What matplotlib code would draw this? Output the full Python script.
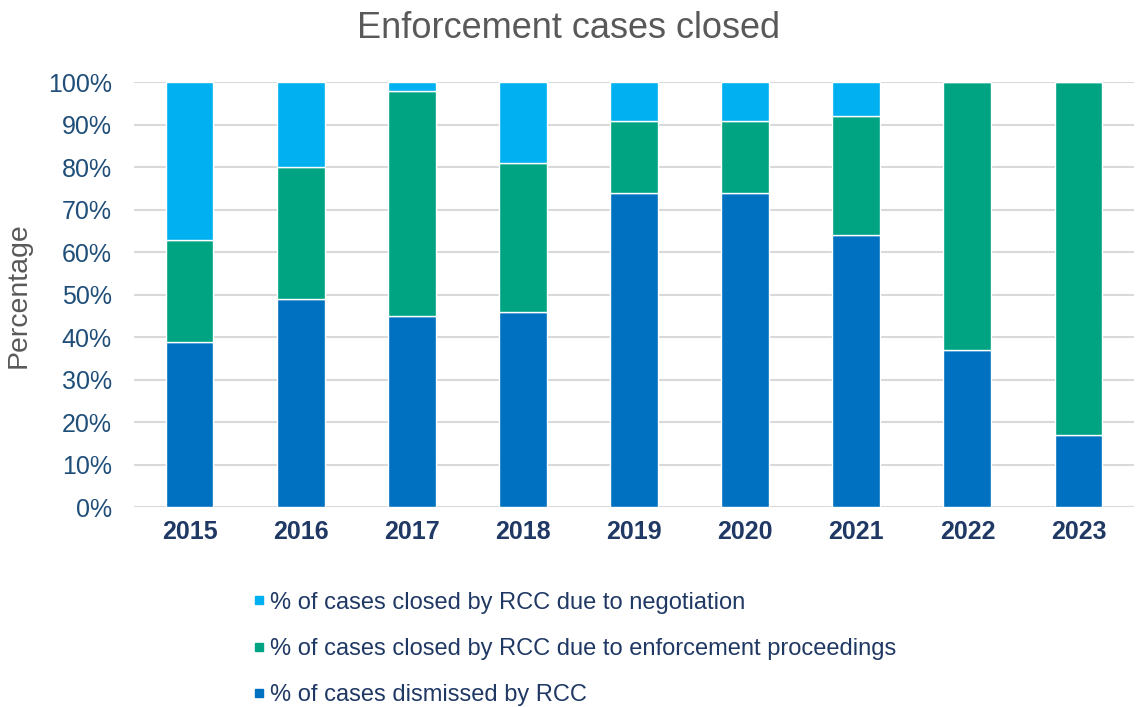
import matplotlib
matplotlib.use("Agg")
import matplotlib.pyplot as plt
from matplotlib.lines import Line2D
import numpy as np

plt.rcParams['font.family'] = ['Liberation Sans', 'DejaVu Sans']

years = ['2015', '2016', '2017', '2018', '2019', '2020', '2021', '2022', '2023']
dismissed = [39, 49, 45, 46, 74, 74, 64, 37, 17]
enforcement = [24, 31, 53, 35, 17, 17, 28, 63, 83]
negotiation = [37, 20, 2, 19, 9, 9, 8, 0, 0]

series_labels = [
    '% of cases closed by RCC due to negotiation',
    '% of cases closed by RCC due to enforcement proceedings',
    '% of cases dismissed by RCC',
]
c_neg = '#00B0F0'
c_enf = '#00A482'
c_dis = '#0070C0'
tick_col = '#1F4E79'
grey = '#595959'

fig = plt.figure(figsize=(11.37, 7.07), dpi=100)
ax = fig.add_axes([0.1179, 0.2825, 0.8795, 0.601])

x = np.arange(len(years))
w = 0.43
dis = np.array(dismissed)
enf = np.array(enforcement)
neg = np.array(negotiation)

ax.bar(x, dis, w, color=c_dis, edgecolor='white', linewidth=1, zorder=3)
ax.bar(x, enf, w, bottom=dis, color=c_enf, edgecolor='white', linewidth=1, zorder=3)
ax.bar(x, neg, w, bottom=dis + enf, color=c_neg, edgecolor='white', linewidth=1, zorder=3)

ax.set_xlim(-0.5, len(years) - 0.5)
ax.set_ylim(0, 100)
ax.set_yticks(np.arange(0, 101, 10))
ax.set_yticklabels([f'{v}%' for v in range(0, 101, 10)], fontsize=18, color=tick_col)
ax.set_xticks(x)
ax.set_xticklabels(years, fontsize=18, fontweight='bold', color='#1F3864')
ax.tick_params(axis='both', length=0)
ax.tick_params(axis='y', pad=16)
ax.tick_params(axis='x', pad=9)
ax.yaxis.grid(True, color='#D9D9D9', linewidth=1.5, zorder=0)
for s in ax.spines.values():
    s.set_visible(False)

ax.set_ylabel('Percentage', fontsize=20.5, color=grey, labelpad=12)
fig.text(0.5, 0.96, 'Enforcement cases closed', ha='center', va='center',
         fontsize=26, color=grey)

handles = [
    Line2D([], [], marker='s', linestyle='none', markersize=6, color=c_neg),
    Line2D([], [], marker='s', linestyle='none', markersize=6, color=c_enf),
    Line2D([], [], marker='s', linestyle='none', markersize=6, color=c_dis),
]
fig.legend(handles, series_labels, loc='upper left',
           bbox_to_anchor=(0.222, 0.163), frameon=False,
           fontsize=17, labelcolor='#1F3864', handlelength=0.6,
           handletextpad=0.15, labelspacing=1.02, borderaxespad=0,
           borderpad=0)

fig.savefig('out.png', dpi=100)
